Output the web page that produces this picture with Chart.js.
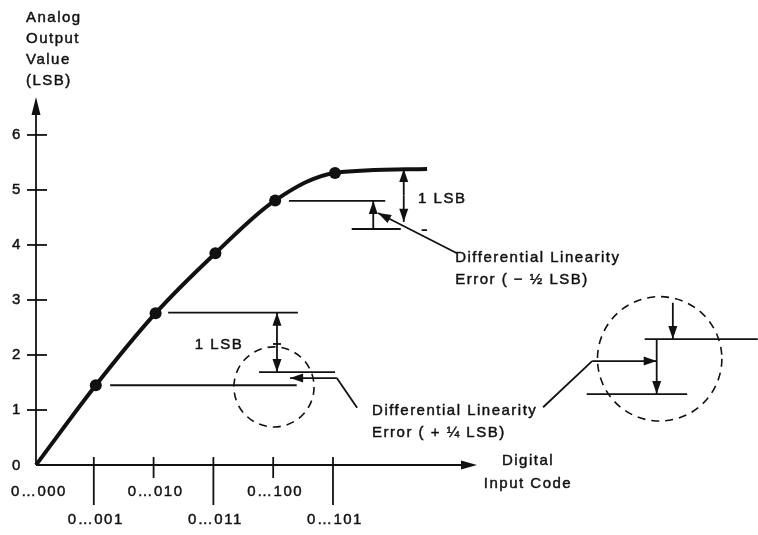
<!DOCTYPE html>
<html>
<head>
<meta charset="utf-8">
<script src="https://cdn.jsdelivr.net/npm/chart.js@4/dist/chart.umd.min.js"></script>
<style>
  html, body { margin: 0; padding: 0; background: #ffffff; }
  #wrap { width: 758px; height: 535px; }
</style>
</head>
<body>
<div id="wrap"><canvas id="c" width="758" height="535"></canvas></div>
<script>
// ---- data ----
const codeValues = [0, 1, 2, 3, 4, 5];
const codeLabels = ['0…000', '0…001', '0…010', '0…011', '0…100', '0…101'];
const yTicks = [0, 1, 2, 3, 4, 5, 6];
const curveX = [0, 1, 2, 3, 4, 5, 6.54];
const curveY = [0, 1.45, 2.76, 3.85, 4.81, 5.31, 5.38];
const yTitle = ['Analog', 'Output', 'Value', '(LSB)'];
const xTitle = ['Digital', 'Input Code'];

// annotation geometry in data units (code, LSB)
const refLines = [
  [1.24, 1.45, 4.36, 1.45],
  [2.21, 2.77, 4.38, 2.77],
  [3.73, 1.69, 5.00, 1.69],
  [4.23, 4.80, 5.84, 4.80],
  [5.28, 4.29, 6.10, 4.29],
  [6.45, 4.27, 6.54, 4.27],
  [10.18, 2.29, 12.07, 2.29],
  [9.21, 1.29, 10.89, 1.29],
  [5.03, 1.58, 5.37, 1.04],
  [9.30, 1.89, 8.48, 1.05]
];
// arrows: [x1,y1,x2,y2, doubleHeaded]
const arrows = [
  [4.03, 2.20, 4.03, 2.77, false],
  [4.03, 2.20, 4.03, 1.69, false],
  [5.03, 1.58, 4.25, 1.58, false],
  [5.64, 4.29, 5.64, 4.80, false],
  [6.15, 4.90, 6.15, 5.38, false],
  [6.15, 4.90, 6.15, 4.42, false],
  [7.04, 3.85, 5.72, 4.58, false],
  [10.38, 2.29, 10.38, 1.29, false],
  [10.65, 2.95, 10.65, 2.29, false],
  [9.30, 1.89, 10.38, 1.89, false]
];
const circles = [
  [3.98, 1.42, 0.67],
  [10.43, 1.93, 1.04]
];
const notes = [
  ['1 LSB', 3.06, 2.18, 'center'],
  ['1 LSB', 6.39, 4.84, 'left'],
  ['Differential Linearity', 7.01, 3.76, 'left'],
  ['Error ( − ½ LSB)', 7.01, 3.36, 'left'],
  ['Differential Linearity', 5.62, 0.98, 'left'],
  ['Error ( + ¼ LSB)', 5.62, 0.58, 'left']
];

const INK = '#111111';
const FONT = '15px "Liberation Sans", Arial, sans-serif';

function head(ctx, x1, y1, x2, y2, len, half) {
  const a = Math.atan2(y2 - y1, x2 - x1);
  ctx.beginPath();
  ctx.moveTo(x2, y2);
  ctx.lineTo(x2 - len * Math.cos(a) + half * Math.sin(a), y2 - len * Math.sin(a) - half * Math.cos(a));
  ctx.lineTo(x2 - len * Math.cos(a) - half * Math.sin(a), y2 - len * Math.sin(a) + half * Math.cos(a));
  ctx.closePath();
  ctx.fill();
}
function txt(ctx, s, x, y, align) {
  ctx.save();
  ctx.font = FONT;
  ctx.letterSpacing = '1.5px';
  ctx.fillStyle = INK;
  ctx.strokeStyle = INK;
  ctx.lineWidth = 0.45;
  ctx.textBaseline = 'middle';
  ctx.textAlign = align || 'center';
  ctx.fillText(s, x, y);
  ctx.strokeText(s, x, y);
  ctx.restore();
}

const axesPlugin = {
  id: 'axesPlugin',
  beforeDatasetsDraw(chart) {
    const ctx = chart.ctx, xs = chart.scales.x, ys = chart.scales.y, a = chart.chartArea;
    const X = v => xs.getPixelForValue(v), Y = v => ys.getPixelForValue(v);
    ctx.save();
    ctx.strokeStyle = INK; ctx.fillStyle = INK; ctx.lineWidth = 1.8;
    // y axis
    ctx.beginPath(); ctx.moveTo(a.left, a.bottom); ctx.lineTo(a.left, a.top + 12); ctx.stroke();
    head(ctx, a.left, a.top + 20, a.left, a.top, 18, 4.5);
    // x axis
    ctx.beginPath(); ctx.moveTo(a.left, a.bottom); ctx.lineTo(a.right - 10, a.bottom); ctx.stroke();
    head(ctx, a.right - 20, a.bottom, a.right, a.bottom, 16, 4.5);
    // y ticks
    yTicks.forEach(v => {
      if (v === 0) return;
      const y = Y(v);
      ctx.beginPath(); ctx.moveTo(a.left - 9, y); ctx.lineTo(a.left + 11, y); ctx.stroke();
    });
    yTicks.forEach(v => txt(ctx, String(v), 17, Y(v) + (v === 0 ? 1 : 0), 'center'));
    // x ticks
    codeValues.forEach((v, i) => {
      const x = X(v);
      if (v > 0) {
        const low = (v % 2 === 1) ? 40 : 13;
        ctx.beginPath(); ctx.moveTo(x - 2, a.bottom - 8); ctx.lineTo(x - 2, a.bottom + low); ctx.stroke();
      }
      const row = (v % 2 === 1) ? 55 : 27;
      txt(ctx, codeLabels[i], (v === 0 ? 39 : x), a.bottom + row, 'center');
    });
    // titles
    yTitle.forEach((s, i) => txt(ctx, s, 26, 18 + i * 21, 'left'));
    xTitle.forEach((s, i) => txt(ctx, s, 528, 461 + i * 23, 'center'));
    ctx.restore();
  },
  afterDatasetsDraw(chart) {
    const ctx = chart.ctx, xs = chart.scales.x, ys = chart.scales.y;
    const X = v => xs.getPixelForValue(v), Y = v => ys.getPixelForValue(v);
    ctx.save();
    ctx.strokeStyle = INK; ctx.fillStyle = INK; ctx.lineWidth = 1.8;
    refLines.forEach(l => {
      ctx.beginPath(); ctx.moveTo(X(l[0]), Y(l[1])); ctx.lineTo(X(l[2]), Y(l[3])); ctx.stroke();
    });
    arrows.forEach(r => {
      const x1 = X(r[0]), y1 = Y(r[1]), x2 = X(r[2]), y2 = Y(r[3]);
      ctx.beginPath(); ctx.moveTo(x1, y1); ctx.lineTo(x2, y2); ctx.stroke();
      head(ctx, x1, y1, x2, y2, 13, 4.5);
      if (r[4]) head(ctx, x2, y2, x1, y1, 13, 4.5);
    });
    // small cross mark on the left double arrow
    ctx.beginPath(); ctx.moveTo(X(4.03) - 4, Y(2.20)); ctx.lineTo(X(4.03) + 4, Y(2.20)); ctx.stroke();
    ctx.lineWidth = 1.6;
    ctx.setLineDash([8, 6]);
    circles.forEach(c => {
      const r = X(c[0] + c[2]) - X(c[0]);
      ctx.beginPath(); ctx.arc(X(c[0]), Y(c[1]), r, 0, Math.PI * 2); ctx.stroke();
    });
    ctx.setLineDash([]);
    notes.forEach(n => txt(ctx, n[0], X(n[1]), Y(n[2]), n[3]));
    ctx.restore();
  }
};

new Chart(document.getElementById('c'), {
  type: 'line',
  data: {
    datasets: [{
      data: curveX.map((x, i) => ({ x: x, y: curveY[i] })),
      borderColor: INK,
      backgroundColor: INK,
      borderWidth: 4,
      cubicInterpolationMode: 'monotone',
      pointRadius: curveX.map((x, i) => (i === 0 || i === curveX.length - 1) ? 0 : 6),
      pointBackgroundColor: INK,
      pointBorderWidth: 0,
      clip: false,
      fill: false
    }]
  },
  options: {
    responsive: false,
    devicePixelRatio: 1,
    animation: false,
    events: [],
    layout: { padding: { left: 36, right: 281, top: 97, bottom: 70 } },
    plugins: { legend: { display: false }, tooltip: { enabled: false } },
    scales: {
      x: { type: 'linear', display: false, min: 0, max: 7.375 },
      y: { type: 'linear', display: false, min: 0, max: 6.69 }
    }
  },
  plugins: [axesPlugin]
});
</script>
</body>
</html>
